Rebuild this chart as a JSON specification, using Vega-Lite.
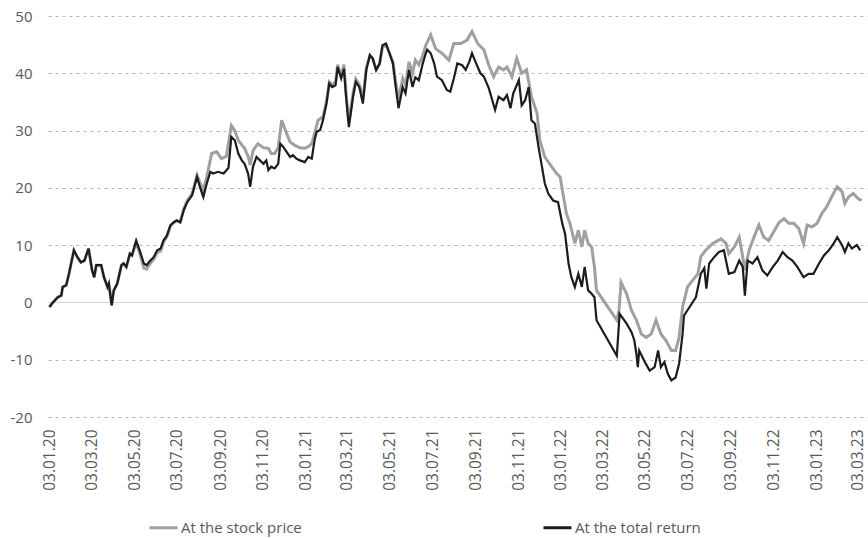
{
  "$schema": "https://vega.github.io/schema/vega-lite/v6.json",
  "width": 820,
  "height": 401,
  "autosize": {"type": "none"},
  "padding": {"left": 48, "top": 16, "right": 0, "bottom": 121},
  "background": "white",
  "config": {"view": {"stroke": null}, "font": "Open Sans"},
  "datasets": {
    "price": [
      {"date": "2020-01-03", "value": -0.8}, {"date": "2020-01-08", "value": 0}, {"date": "2020-01-15", "value": 0.9}, {"date": "2020-01-20", "value": 1.2},
      {"date": "2020-01-22", "value": 2.7}, {"date": "2020-01-27", "value": 3.0}, {"date": "2020-01-31", "value": 5.0}, {"date": "2020-02-07", "value": 9.1},
      {"date": "2020-02-12", "value": 7.9}, {"date": "2020-02-17", "value": 7.0}, {"date": "2020-02-22", "value": 7.3}, {"date": "2020-02-28", "value": 9.4},
      {"date": "2020-03-04", "value": 5.6}, {"date": "2020-03-07", "value": 4.4}, {"date": "2020-03-10", "value": 6.5}, {"date": "2020-03-17", "value": 6.5},
      {"date": "2020-03-21", "value": 4.4}, {"date": "2020-03-26", "value": 2.7}, {"date": "2020-03-28", "value": 3.3}, {"date": "2020-04-01", "value": -0.5},
      {"date": "2020-04-04", "value": 2.1}, {"date": "2020-04-09", "value": 3.3}, {"date": "2020-04-15", "value": 6.5}, {"date": "2020-04-18", "value": 6.8},
      {"date": "2020-04-22", "value": 6.2}, {"date": "2020-04-27", "value": 8.5}, {"date": "2020-04-30", "value": 8.2}, {"date": "2020-05-06", "value": 10.5},
      {"date": "2020-05-11", "value": 8.6}, {"date": "2020-05-17", "value": 6.0}, {"date": "2020-05-21", "value": 5.8}, {"date": "2020-05-26", "value": 6.8},
      {"date": "2020-05-31", "value": 7.5}, {"date": "2020-06-05", "value": 8.7}, {"date": "2020-06-10", "value": 9.0}, {"date": "2020-06-14", "value": 10.5},
      {"date": "2020-06-19", "value": 11.5}, {"date": "2020-06-24", "value": 13.3}, {"date": "2020-06-29", "value": 14.0}, {"date": "2020-07-03", "value": 14.3},
      {"date": "2020-07-08", "value": 14.0}, {"date": "2020-07-13", "value": 16.3}, {"date": "2020-07-18", "value": 17.8}, {"date": "2020-07-25", "value": 19.0},
      {"date": "2020-08-01", "value": 22.2}, {"date": "2020-08-05", "value": 21.0}, {"date": "2020-08-10", "value": 19.5}, {"date": "2020-08-15", "value": 22.0},
      {"date": "2020-08-22", "value": 26.0}, {"date": "2020-08-29", "value": 26.3}, {"date": "2020-09-05", "value": 25.1}, {"date": "2020-09-12", "value": 25.5},
      {"date": "2020-09-19", "value": 30.9}, {"date": "2020-09-24", "value": 30.0}, {"date": "2020-09-29", "value": 28.3}, {"date": "2020-10-04", "value": 27.5},
      {"date": "2020-10-08", "value": 26.9}, {"date": "2020-10-13", "value": 25.5}, {"date": "2020-10-16", "value": 24.0}, {"date": "2020-10-20", "value": 26.5},
      {"date": "2020-10-27", "value": 27.7}, {"date": "2020-11-04", "value": 27.0}, {"date": "2020-11-11", "value": 26.9}, {"date": "2020-11-15", "value": 26.0},
      {"date": "2020-11-20", "value": 26.0}, {"date": "2020-11-25", "value": 27.0}, {"date": "2020-11-30", "value": 31.8}, {"date": "2020-12-07", "value": 29.5},
      {"date": "2020-12-12", "value": 28.0}, {"date": "2020-12-19", "value": 27.4}, {"date": "2020-12-26", "value": 27.0}, {"date": "2021-01-02", "value": 26.9},
      {"date": "2021-01-07", "value": 27.2}, {"date": "2021-01-12", "value": 27.7}, {"date": "2021-01-16", "value": 29.5}, {"date": "2021-01-21", "value": 31.8},
      {"date": "2021-01-28", "value": 32.4}, {"date": "2021-02-02", "value": 35.0}, {"date": "2021-02-06", "value": 38.5}, {"date": "2021-02-10", "value": 38.0},
      {"date": "2021-02-15", "value": 38.5}, {"date": "2021-02-18", "value": 41.5}, {"date": "2021-02-23", "value": 39.5}, {"date": "2021-02-27", "value": 41.5},
      {"date": "2021-03-02", "value": 36.5}, {"date": "2021-03-06", "value": 31.5}, {"date": "2021-03-12", "value": 36.5}, {"date": "2021-03-16", "value": 39.0},
      {"date": "2021-03-21", "value": 38.0}, {"date": "2021-03-26", "value": 35.5}, {"date": "2021-03-31", "value": 41.0}, {"date": "2021-04-05", "value": 43.0},
      {"date": "2021-04-09", "value": 42.6}, {"date": "2021-04-14", "value": 40.6}, {"date": "2021-04-19", "value": 41.7}, {"date": "2021-04-23", "value": 44.5},
      {"date": "2021-04-28", "value": 45.0}, {"date": "2021-05-03", "value": 43.5}, {"date": "2021-05-08", "value": 42.0}, {"date": "2021-05-12", "value": 38.5},
      {"date": "2021-05-16", "value": 35.5}, {"date": "2021-05-22", "value": 39.1}, {"date": "2021-05-26", "value": 38.0}, {"date": "2021-05-31", "value": 42.0},
      {"date": "2021-06-05", "value": 40.0}, {"date": "2021-06-09", "value": 42.3}, {"date": "2021-06-14", "value": 41.5}, {"date": "2021-06-19", "value": 42.9},
      {"date": "2021-06-24", "value": 44.9}, {"date": "2021-07-01", "value": 46.7}, {"date": "2021-07-08", "value": 44.3}, {"date": "2021-07-17", "value": 43.5},
      {"date": "2021-07-27", "value": 42.3}, {"date": "2021-08-03", "value": 45.2}, {"date": "2021-08-13", "value": 45.2}, {"date": "2021-08-22", "value": 45.8},
      {"date": "2021-08-29", "value": 47.3}, {"date": "2021-09-06", "value": 45.2}, {"date": "2021-09-15", "value": 44.1}, {"date": "2021-09-22", "value": 41.4},
      {"date": "2021-09-29", "value": 39.4}, {"date": "2021-10-06", "value": 41.1}, {"date": "2021-10-13", "value": 40.6}, {"date": "2021-10-18", "value": 41.1},
      {"date": "2021-10-25", "value": 39.4}, {"date": "2021-11-01", "value": 42.6}, {"date": "2021-11-08", "value": 40.0}, {"date": "2021-11-15", "value": 40.6},
      {"date": "2021-11-22", "value": 35.9}, {"date": "2021-11-30", "value": 33.0}, {"date": "2021-12-04", "value": 28.3}, {"date": "2021-12-11", "value": 25.4},
      {"date": "2021-12-18", "value": 24.2}, {"date": "2021-12-28", "value": 22.5}, {"date": "2022-01-02", "value": 21.9}, {"date": "2022-01-06", "value": 19.0},
      {"date": "2022-01-11", "value": 15.5}, {"date": "2022-01-16", "value": 13.8}, {"date": "2022-01-23", "value": 10.3}, {"date": "2022-01-28", "value": 12.6},
      {"date": "2022-02-02", "value": 9.7}, {"date": "2022-02-06", "value": 12.6}, {"date": "2022-02-11", "value": 10.3}, {"date": "2022-02-16", "value": 9.7},
      {"date": "2022-02-20", "value": 6.2}, {"date": "2022-02-23", "value": 2.1}, {"date": "2022-03-24", "value": -3.1}, {"date": "2022-03-27", "value": -1.5},
      {"date": "2022-03-30", "value": 3.5}, {"date": "2022-04-07", "value": 1.5}, {"date": "2022-04-14", "value": -1.4}, {"date": "2022-04-21", "value": -3.1},
      {"date": "2022-04-28", "value": -5.5}, {"date": "2022-05-05", "value": -6.1}, {"date": "2022-05-12", "value": -5.5}, {"date": "2022-05-19", "value": -3.1},
      {"date": "2022-05-26", "value": -5.5}, {"date": "2022-06-02", "value": -6.6}, {"date": "2022-06-10", "value": -8.4}, {"date": "2022-06-16", "value": -8.4},
      {"date": "2022-06-21", "value": -6.1}, {"date": "2022-06-26", "value": -0.8}, {"date": "2022-07-03", "value": 2.7}, {"date": "2022-07-10", "value": 3.8},
      {"date": "2022-07-18", "value": 5.0}, {"date": "2022-07-22", "value": 8.0}, {"date": "2022-07-29", "value": 9.1}, {"date": "2022-08-08", "value": 10.3},
      {"date": "2022-08-20", "value": 11.1}, {"date": "2022-08-27", "value": 10.3}, {"date": "2022-08-31", "value": 8.5}, {"date": "2022-09-08", "value": 9.7},
      {"date": "2022-09-15", "value": 11.4}, {"date": "2022-09-20", "value": 7.9}, {"date": "2022-09-23", "value": 5.6}, {"date": "2022-09-29", "value": 9.1},
      {"date": "2022-10-06", "value": 11.4}, {"date": "2022-10-13", "value": 13.5}, {"date": "2022-10-20", "value": 11.4}, {"date": "2022-10-27", "value": 10.8},
      {"date": "2022-11-03", "value": 12.3}, {"date": "2022-11-11", "value": 14.0}, {"date": "2022-11-18", "value": 14.6}, {"date": "2022-11-25", "value": 13.8},
      {"date": "2022-12-02", "value": 13.8}, {"date": "2022-12-09", "value": 12.9}, {"date": "2022-12-16", "value": 10.3}, {"date": "2022-12-21", "value": 13.5},
      {"date": "2022-12-28", "value": 13.2}, {"date": "2023-01-04", "value": 13.8}, {"date": "2023-01-11", "value": 15.5}, {"date": "2023-01-18", "value": 16.7},
      {"date": "2023-01-25", "value": 18.4}, {"date": "2023-02-02", "value": 20.2}, {"date": "2023-02-09", "value": 19.3}, {"date": "2023-02-13", "value": 17.3},
      {"date": "2023-02-18", "value": 18.4}, {"date": "2023-02-25", "value": 19.0}, {"date": "2023-03-04", "value": 18.1}, {"date": "2023-03-09", "value": 17.8}
    ],
    "total": [
      {"date": "2020-01-03", "value": -0.8}, {"date": "2020-01-08", "value": 0}, {"date": "2020-01-15", "value": 0.9}, {"date": "2020-01-20", "value": 1.2},
      {"date": "2020-01-22", "value": 2.7}, {"date": "2020-01-27", "value": 3.0}, {"date": "2020-01-31", "value": 5.0}, {"date": "2020-02-07", "value": 9.1},
      {"date": "2020-02-12", "value": 7.9}, {"date": "2020-02-17", "value": 7.0}, {"date": "2020-02-22", "value": 7.3}, {"date": "2020-02-28", "value": 9.4},
      {"date": "2020-03-04", "value": 5.6}, {"date": "2020-03-07", "value": 4.4}, {"date": "2020-03-10", "value": 6.5}, {"date": "2020-03-17", "value": 6.5},
      {"date": "2020-03-21", "value": 4.4}, {"date": "2020-03-26", "value": 2.7}, {"date": "2020-03-28", "value": 3.3}, {"date": "2020-04-01", "value": -0.5},
      {"date": "2020-04-04", "value": 2.1}, {"date": "2020-04-09", "value": 3.3}, {"date": "2020-04-15", "value": 6.5}, {"date": "2020-04-18", "value": 6.8},
      {"date": "2020-04-22", "value": 6.2}, {"date": "2020-04-27", "value": 8.5}, {"date": "2020-04-30", "value": 8.2}, {"date": "2020-05-06", "value": 10.8},
      {"date": "2020-05-11", "value": 9.1}, {"date": "2020-05-17", "value": 6.8}, {"date": "2020-05-21", "value": 6.5}, {"date": "2020-05-26", "value": 7.3},
      {"date": "2020-05-31", "value": 7.9}, {"date": "2020-06-05", "value": 9.1}, {"date": "2020-06-10", "value": 9.4}, {"date": "2020-06-14", "value": 10.8},
      {"date": "2020-06-19", "value": 11.7}, {"date": "2020-06-24", "value": 13.5}, {"date": "2020-06-29", "value": 14.0}, {"date": "2020-07-03", "value": 14.3},
      {"date": "2020-07-08", "value": 14.0}, {"date": "2020-07-13", "value": 16.1}, {"date": "2020-07-18", "value": 17.5}, {"date": "2020-07-25", "value": 18.7},
      {"date": "2020-08-01", "value": 21.9}, {"date": "2020-08-05", "value": 20.2}, {"date": "2020-08-10", "value": 18.4}, {"date": "2020-08-15", "value": 20.8},
      {"date": "2020-08-20", "value": 22.8}, {"date": "2020-08-24", "value": 22.5}, {"date": "2020-08-31", "value": 22.8}, {"date": "2020-09-08", "value": 22.5},
      {"date": "2020-09-15", "value": 23.5}, {"date": "2020-09-19", "value": 28.9}, {"date": "2020-09-24", "value": 28.3}, {"date": "2020-09-29", "value": 26.0},
      {"date": "2020-10-04", "value": 24.8}, {"date": "2020-10-08", "value": 24.2}, {"date": "2020-10-13", "value": 22.5}, {"date": "2020-10-16", "value": 20.2},
      {"date": "2020-10-20", "value": 23.7}, {"date": "2020-10-25", "value": 25.4}, {"date": "2020-10-30", "value": 24.8}, {"date": "2020-11-04", "value": 24.2},
      {"date": "2020-11-08", "value": 24.8}, {"date": "2020-11-11", "value": 23.1}, {"date": "2020-11-15", "value": 23.7}, {"date": "2020-11-20", "value": 23.4},
      {"date": "2020-11-25", "value": 24.2}, {"date": "2020-11-28", "value": 27.7}, {"date": "2020-12-02", "value": 27.2}, {"date": "2020-12-07", "value": 26.3},
      {"date": "2020-12-12", "value": 25.4}, {"date": "2020-12-16", "value": 25.7}, {"date": "2020-12-21", "value": 25.1}, {"date": "2020-12-26", "value": 24.8},
      {"date": "2021-01-02", "value": 24.5}, {"date": "2021-01-07", "value": 25.4}, {"date": "2021-01-12", "value": 25.1}, {"date": "2021-01-16", "value": 28.3},
      {"date": "2021-01-19", "value": 29.8}, {"date": "2021-01-24", "value": 30.1}, {"date": "2021-01-28", "value": 31.8}, {"date": "2021-02-02", "value": 34.7},
      {"date": "2021-02-06", "value": 38.2}, {"date": "2021-02-10", "value": 37.6}, {"date": "2021-02-15", "value": 37.9}, {"date": "2021-02-18", "value": 41.1},
      {"date": "2021-02-23", "value": 39.1}, {"date": "2021-02-27", "value": 40.8}, {"date": "2021-03-02", "value": 35.9}, {"date": "2021-03-06", "value": 30.6},
      {"date": "2021-03-12", "value": 35.9}, {"date": "2021-03-16", "value": 38.5}, {"date": "2021-03-21", "value": 37.6}, {"date": "2021-03-26", "value": 34.7},
      {"date": "2021-03-31", "value": 40.6}, {"date": "2021-04-05", "value": 43.2}, {"date": "2021-04-09", "value": 42.6}, {"date": "2021-04-14", "value": 40.6},
      {"date": "2021-04-19", "value": 41.7}, {"date": "2021-04-23", "value": 44.9}, {"date": "2021-04-28", "value": 45.2}, {"date": "2021-05-03", "value": 43.5},
      {"date": "2021-05-08", "value": 41.7}, {"date": "2021-05-12", "value": 37.6}, {"date": "2021-05-16", "value": 33.9}, {"date": "2021-05-22", "value": 37.6},
      {"date": "2021-05-26", "value": 36.5}, {"date": "2021-05-31", "value": 40.6}, {"date": "2021-06-05", "value": 37.6}, {"date": "2021-06-09", "value": 39.3},
      {"date": "2021-06-14", "value": 38.8}, {"date": "2021-06-19", "value": 41.4}, {"date": "2021-06-24", "value": 43.5}, {"date": "2021-06-26", "value": 44.1},
      {"date": "2021-07-01", "value": 43.5}, {"date": "2021-07-06", "value": 41.7}, {"date": "2021-07-10", "value": 39.4}, {"date": "2021-07-17", "value": 38.8},
      {"date": "2021-07-24", "value": 37.1}, {"date": "2021-07-29", "value": 36.8}, {"date": "2021-08-03", "value": 39.1}, {"date": "2021-08-08", "value": 41.7},
      {"date": "2021-08-15", "value": 41.4}, {"date": "2021-08-20", "value": 40.6}, {"date": "2021-08-25", "value": 42.0}, {"date": "2021-08-29", "value": 43.5},
      {"date": "2021-09-03", "value": 42.0}, {"date": "2021-09-10", "value": 40.0}, {"date": "2021-09-15", "value": 39.4}, {"date": "2021-09-22", "value": 37.4},
      {"date": "2021-09-27", "value": 35.3}, {"date": "2021-10-01", "value": 33.6}, {"date": "2021-10-06", "value": 35.9}, {"date": "2021-10-13", "value": 35.3},
      {"date": "2021-10-18", "value": 36.2}, {"date": "2021-10-23", "value": 33.9}, {"date": "2021-10-27", "value": 36.5}, {"date": "2021-11-04", "value": 38.8},
      {"date": "2021-11-08", "value": 34.4}, {"date": "2021-11-13", "value": 35.3}, {"date": "2021-11-18", "value": 37.6}, {"date": "2021-11-22", "value": 31.8},
      {"date": "2021-11-27", "value": 31.2}, {"date": "2021-12-02", "value": 27.2}, {"date": "2021-12-07", "value": 23.7}, {"date": "2021-12-11", "value": 20.8},
      {"date": "2021-12-16", "value": 19.0}, {"date": "2021-12-23", "value": 17.8}, {"date": "2021-12-30", "value": 17.5}, {"date": "2022-01-05", "value": 13.8},
      {"date": "2022-01-09", "value": 12.0}, {"date": "2022-01-14", "value": 6.8}, {"date": "2022-01-18", "value": 4.4}, {"date": "2022-01-23", "value": 2.7},
      {"date": "2022-01-28", "value": 5.0}, {"date": "2022-02-02", "value": 2.7}, {"date": "2022-02-06", "value": 6.2}, {"date": "2022-02-11", "value": 2.1},
      {"date": "2022-02-16", "value": 1.5}, {"date": "2022-02-20", "value": 0.9}, {"date": "2022-02-23", "value": -3.1}, {"date": "2022-03-24", "value": -9.3},
      {"date": "2022-03-28", "value": -2.0}, {"date": "2022-04-07", "value": -3.7}, {"date": "2022-04-14", "value": -5.2}, {"date": "2022-04-18", "value": -6.6},
      {"date": "2022-04-21", "value": -9.0}, {"date": "2022-04-23", "value": -11.3}, {"date": "2022-04-25", "value": -8.4}, {"date": "2022-05-03", "value": -10.4},
      {"date": "2022-05-10", "value": -11.9}, {"date": "2022-05-17", "value": -11.3}, {"date": "2022-05-22", "value": -8.4}, {"date": "2022-05-26", "value": -11.3},
      {"date": "2022-05-31", "value": -10.4}, {"date": "2022-06-05", "value": -12.5}, {"date": "2022-06-10", "value": -13.6}, {"date": "2022-06-16", "value": -13.1},
      {"date": "2022-06-21", "value": -10.7}, {"date": "2022-06-26", "value": -5.5}, {"date": "2022-06-28", "value": -2.3}, {"date": "2022-07-06", "value": -0.8},
      {"date": "2022-07-15", "value": 0.9}, {"date": "2022-07-22", "value": 5.0}, {"date": "2022-07-27", "value": 6.0}, {"date": "2022-07-30", "value": 2.4},
      {"date": "2022-08-03", "value": 6.8}, {"date": "2022-08-10", "value": 7.9}, {"date": "2022-08-17", "value": 8.8}, {"date": "2022-08-24", "value": 9.1},
      {"date": "2022-08-31", "value": 5.0}, {"date": "2022-09-08", "value": 5.3}, {"date": "2022-09-15", "value": 7.3}, {"date": "2022-09-20", "value": 6.2},
      {"date": "2022-09-23", "value": 1.2}, {"date": "2022-09-27", "value": 7.3}, {"date": "2022-10-04", "value": 6.8}, {"date": "2022-10-11", "value": 7.9},
      {"date": "2022-10-18", "value": 5.6}, {"date": "2022-10-25", "value": 4.7}, {"date": "2022-11-02", "value": 6.2}, {"date": "2022-11-09", "value": 7.3},
      {"date": "2022-11-16", "value": 8.8}, {"date": "2022-11-23", "value": 7.9}, {"date": "2022-11-30", "value": 7.3}, {"date": "2022-12-07", "value": 6.2},
      {"date": "2022-12-16", "value": 4.4}, {"date": "2022-12-23", "value": 5.0}, {"date": "2022-12-30", "value": 5.0}, {"date": "2023-01-07", "value": 6.8},
      {"date": "2023-01-14", "value": 8.2}, {"date": "2023-01-21", "value": 9.1}, {"date": "2023-01-28", "value": 10.3}, {"date": "2023-02-02", "value": 11.4},
      {"date": "2023-02-09", "value": 10.0}, {"date": "2023-02-13", "value": 8.8}, {"date": "2023-02-18", "value": 10.3}, {"date": "2023-02-23", "value": 9.4},
      {"date": "2023-03-02", "value": 10.0}, {"date": "2023-03-07", "value": 9.1}
    ]
  },
  "encoding": {
    "x": {
      "field": "date",
      "type": "temporal",
      "scale": {"type": "utc", "domain": [{"year": 2020, "month": 1, "date": 1, "utc": true}, {"year": 2023, "month": 3, "date": 18, "utc": true}]},
      "axis": {
        "title": null,
        "grid": false,
        "domain": false,
        "ticks": false,
        "labelAngle": -90,
        "labelPadding": 12,
        "labelColor": "#595959",
        "labelFontSize": 15.5,
        "labelOverlap": false,
        "labelFlush": false,
        "labelBound": false,
        "labelExpr": "utcFormat(datum.value, '%d.%m.%y')",
        "values": [
          {"year": 2020, "month": 1, "date": 3, "utc": true}, {"year": 2020, "month": 3, "date": 3, "utc": true},
          {"year": 2020, "month": 5, "date": 3, "utc": true}, {"year": 2020, "month": 7, "date": 3, "utc": true},
          {"year": 2020, "month": 9, "date": 3, "utc": true}, {"year": 2020, "month": 11, "date": 3, "utc": true},
          {"year": 2021, "month": 1, "date": 3, "utc": true}, {"year": 2021, "month": 3, "date": 3, "utc": true},
          {"year": 2021, "month": 5, "date": 3, "utc": true}, {"year": 2021, "month": 7, "date": 3, "utc": true},
          {"year": 2021, "month": 9, "date": 3, "utc": true}, {"year": 2021, "month": 11, "date": 3, "utc": true},
          {"year": 2022, "month": 1, "date": 3, "utc": true}, {"year": 2022, "month": 3, "date": 3, "utc": true},
          {"year": 2022, "month": 5, "date": 3, "utc": true}, {"year": 2022, "month": 7, "date": 3, "utc": true},
          {"year": 2022, "month": 9, "date": 3, "utc": true}, {"year": 2022, "month": 11, "date": 3, "utc": true},
          {"year": 2023, "month": 1, "date": 3, "utc": true}, {"year": 2023, "month": 3, "date": 3, "utc": true}
        ]
      }
    },
    "y": {
      "field": "value",
      "type": "quantitative",
      "scale": {"domain": [-20, 50], "nice": false, "zero": false},
      "axis": {
        "title": null,
        "values": [-20, -10, 0, 10, 20, 30, 40, 50],
        "labelExpr": "'' + datum.value",
        "grid": true,
        "gridDash": {"condition": {"test": "datum.value === 0", "value": []}, "value": [3, 4]},
        "gridColor": {"condition": {"test": "datum.value === 0", "value": "#d4d4d4"}, "value": "#b5b5b5"},
        "gridWidth": 1,
        "domain": false,
        "ticks": false,
        "labelPadding": 16,
        "labelColor": "#595959",
        "labelFontSize": 15
      }
    }
  },
  "layer": [
    {
      "data": {"name": "price"},
      "mark": {"type": "line", "strokeWidth": 3},
      "encoding": {
        "color": {
          "datum": "At the stock price",
          "type": "nominal",
          "scale": {"domain": ["At the stock price", "At the total return"], "range": ["#a0a0a0", "#1c1c1c"]},
          "legend": {
            "orient": "none",
            "legendX": 100,
            "legendY": 496,
            "direction": "horizontal",
            "columns": 2,
            "title": null,
            "symbolType": "stroke",
            "symbolSize": 784,
            "symbolStrokeWidth": 3,
            "labelFontSize": 15,
            "labelColor": "#595959",
            "labelOffset": 2,
            "columnPadding": 235
          }
        }
      }
    },
    {
      "data": {"name": "total"},
      "mark": {"type": "line", "strokeWidth": 2.2},
      "encoding": {"color": {"datum": "At the total return", "type": "nominal"}}
    }
  ]
}
